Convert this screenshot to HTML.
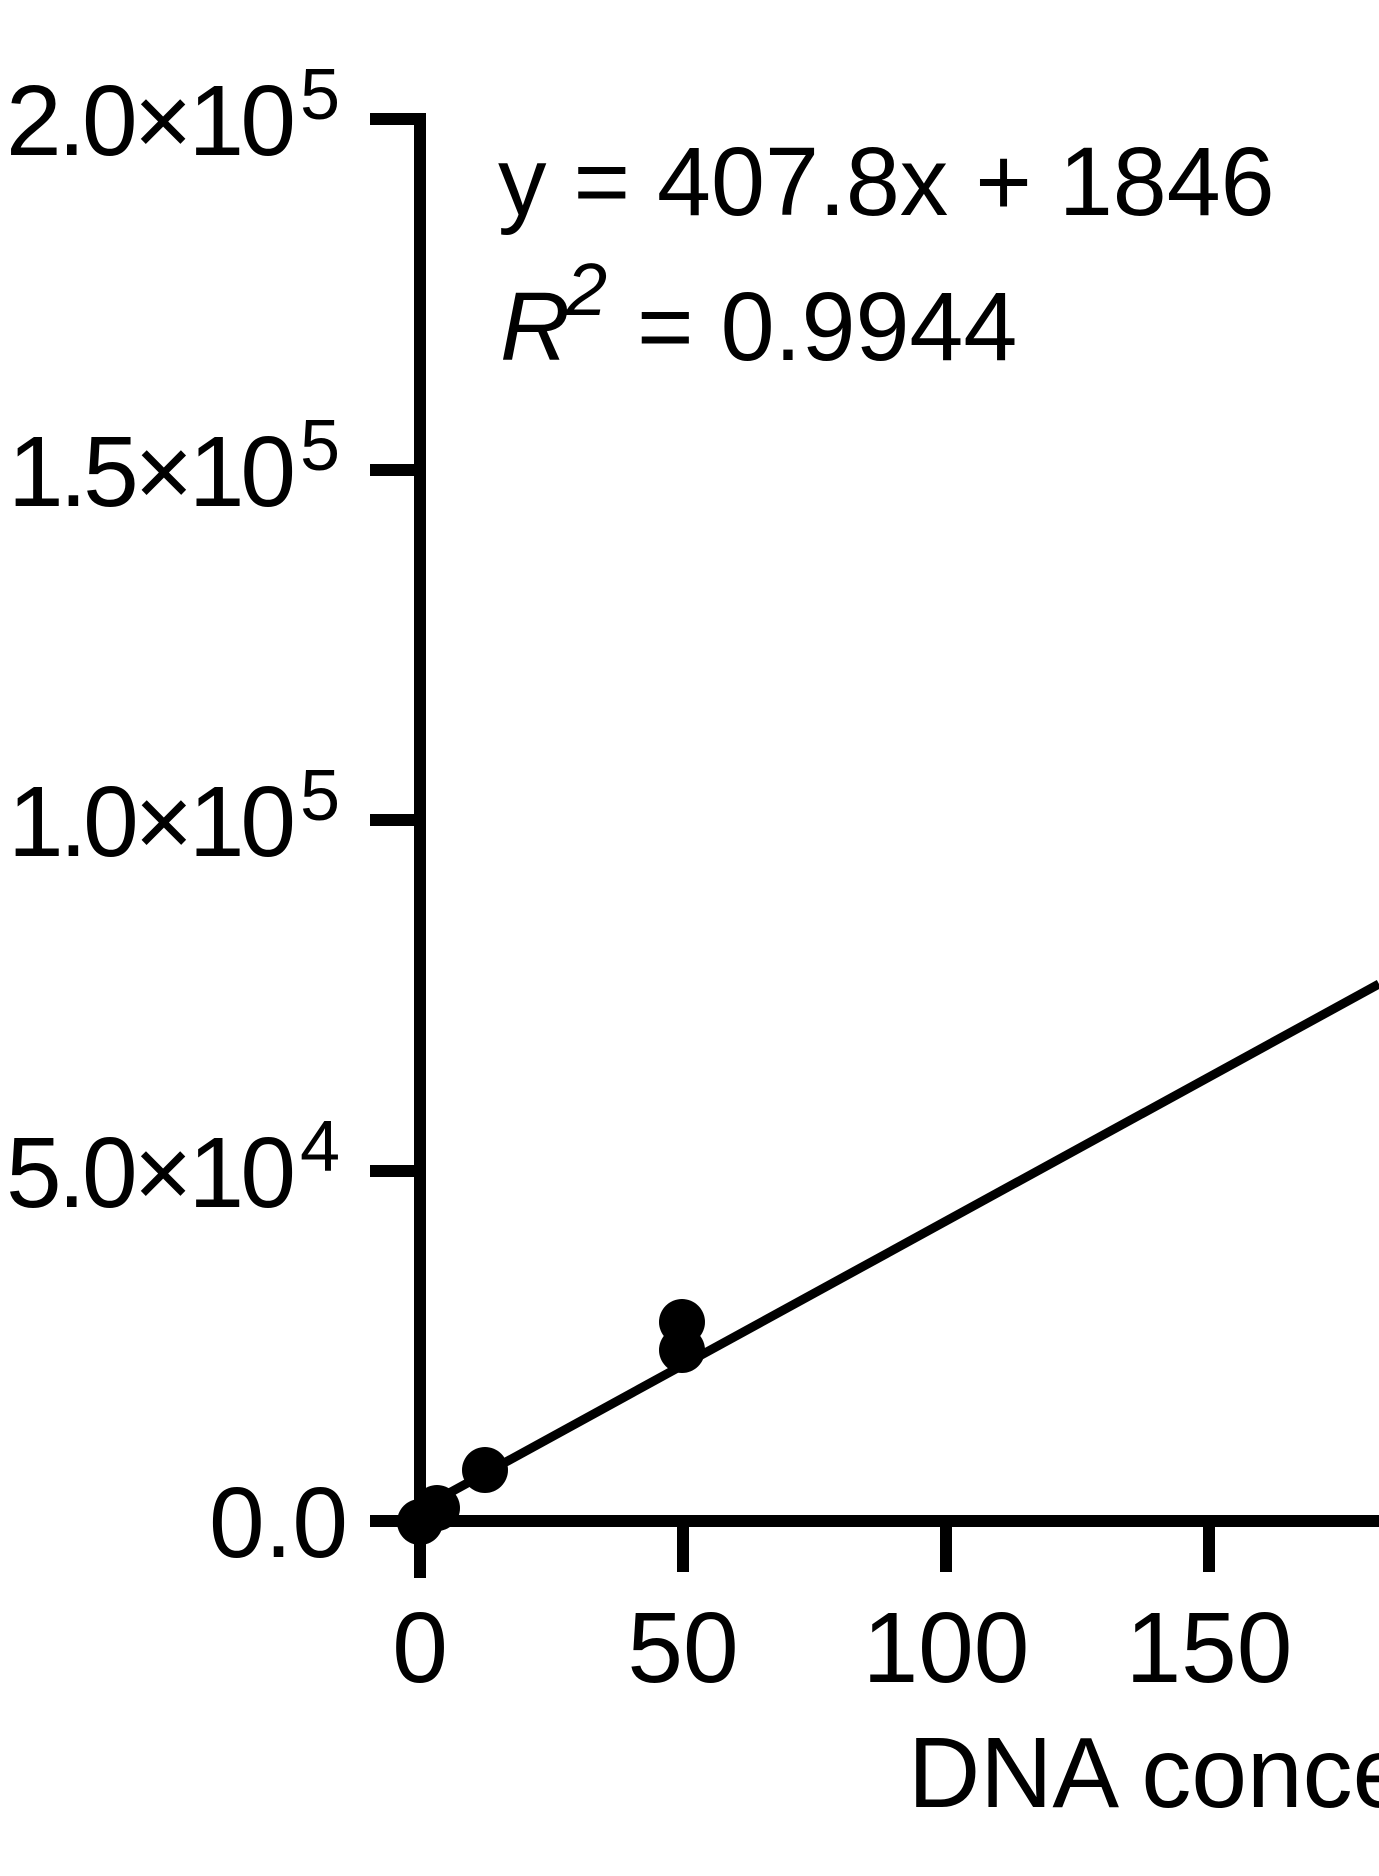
<!DOCTYPE html>
<html><head><meta charset="utf-8"><style>
html,body{margin:0;padding:0;background:#fff;}
svg{display:block;}
text{font-family:"Liberation Sans",Arial,sans-serif;fill:#000;}
</style></head><body>
<svg width="1379" height="1876" viewBox="0 0 1379 1876" xmlns="http://www.w3.org/2000/svg">
<line x1="420" y1="1509" x2="1379" y2="984" stroke="#000" stroke-width="9"/>
<line x1="420" y1="113" x2="420" y2="1578" stroke="#000" stroke-width="12"/>
<line x1="414" y1="1521" x2="1379" y2="1521" stroke="#000" stroke-width="12"/>
<g stroke="#000" stroke-width="12">
<line x1="370" y1="119" x2="426" y2="119"/>
<line x1="370" y1="470" x2="420" y2="470"/>
<line x1="370" y1="820" x2="420" y2="820"/>
<line x1="370" y1="1171" x2="420" y2="1171"/>
<line x1="370" y1="1521" x2="420" y2="1521"/>
<line x1="683" y1="1521" x2="683" y2="1572"/>
<line x1="946" y1="1521" x2="946" y2="1572"/>
<line x1="1209" y1="1521" x2="1209" y2="1572"/>
</g>
<g fill="#000">
<circle cx="420" cy="1522" r="23"/>
<circle cx="437" cy="1508" r="23"/>
<circle cx="485" cy="1470" r="23"/>
<circle cx="682" cy="1322" r="23"/>
<circle cx="682" cy="1350" r="23"/>
</g>
<g font-size="100">
<text x="6" y="155" textLength="290" lengthAdjust="spacing">2.0×10</text>
<text x="8" y="506" textLength="288" lengthAdjust="spacing">1.5×10</text>
<text x="8" y="856" textLength="288" lengthAdjust="spacing">1.0×10</text>
<text x="6" y="1207" textLength="290" lengthAdjust="spacing">5.0×10</text>
<text x="348" y="1557" text-anchor="end">0.0</text>
</g>
<g font-size="72">
<text x="300" y="119">5</text>
<text x="300" y="470">5</text>
<text x="300" y="820">5</text>
<text x="300" y="1171">4</text>
</g>
<g font-size="100" text-anchor="middle">
<text x="420" y="1682">0</text>
<text x="683" y="1682">50</text>
<text x="946" y="1682">100</text>
<text x="1209" y="1682">150</text>
</g>
<text x="908" y="1807" font-size="100">DNA concentration</text>
<text x="498" y="215" font-size="97">y = 407.8x + 1846</text>
<text x="500" y="360" font-size="97" font-style="italic">R</text>
<text x="566" y="315" font-size="74" font-style="italic">2</text>
<text x="637" y="360" font-size="97">= 0.9944</text>
</svg>
</body></html>
